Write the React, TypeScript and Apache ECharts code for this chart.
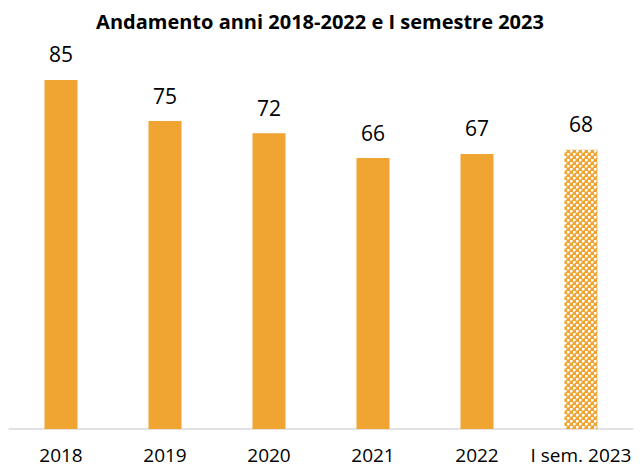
import React, { useEffect, useRef } from "react";
import * as echarts from "echarts";

const categories = ["2018", "2019", "2020", "2021", "2022", "I sem. 2023"];
const values = [85, 75, 72, 66, 67, 68];
const titleText = "Andamento anni 2018-2022 e I semestre 2023";

const ORANGE = "#F0A431";

function makePattern(): string {
  const c = document.createElement("canvas");
  c.width = 6;
  c.height = 6;
  const ctx = c.getContext("2d")!;
  ctx.fillStyle = ORANGE;
  ctx.fillRect(0, 0, 6, 6);
  ctx.fillStyle = "#ffffff";
  ctx.fillRect(0, 0, 2, 2);
  ctx.fillRect(3, 3, 2, 2);
  ctx.fillStyle = "#F8D7A6";
  ctx.fillRect(2, 0, 1, 2);
  ctx.fillRect(0, 2, 2, 1);
  ctx.fillRect(5, 3, 1, 2);
  ctx.fillRect(3, 5, 2, 1);
  return c.toDataURL();
}

export default function App() {
  const ref = useRef<HTMLDivElement>(null);
  useEffect(() => {
    if (!ref.current) return;
    const chart = echarts.init(ref.current, undefined, { renderer: "svg" });
    const pattern = makePattern();
    const data = values.map((v, i) =>
      i === values.length - 1
        ? { value: v, itemStyle: { color: { image: pattern, repeat: "repeat" } as any } }
        : { value: v }
    );
    chart.setOption({
      animation: false,
      backgroundColor: "#ffffff",
      title: {
        text: titleText,
        left: "center",
        top: 6,
        textStyle: { fontFamily: "Open Sans", fontWeight: "bold", fontSize: 20, color: "#000" },
      },
      grid: { left: 9, right: 7, top: 18.4, bottom: 39, containLabel: false },
      xAxis: {
        type: "category",
        data: categories,
        axisLine: { show: true, lineStyle: { color: "#D9D9D9", width: 1.5 } },
        axisTick: { show: false },
        axisLabel: {
          color: "#000",
          fontFamily: "Open Sans",
          fontSize: 19,
          lineHeight: 19,
          margin: 16,
          interval: 0,
        },
      },
      yAxis: {
        type: "value",
        min: 0,
        max: 100,
        show: false,
        splitLine: { show: false },
      },
      series: [
        {
          type: "bar",
          data,
          barWidth: 33,
          itemStyle: { color: ORANGE },
          label: {
            show: true,
            position: "top",
            distance: 15,
            color: "#000",
            fontFamily: "Open Sans",
            fontSize: 21,
          },
        },
      ],
    });
    return () => chart.dispose();
  }, []);
  return <div ref={ref} style={{ width: 640, height: 468, position: "absolute", left: 0, top: 0 }} />;
}
